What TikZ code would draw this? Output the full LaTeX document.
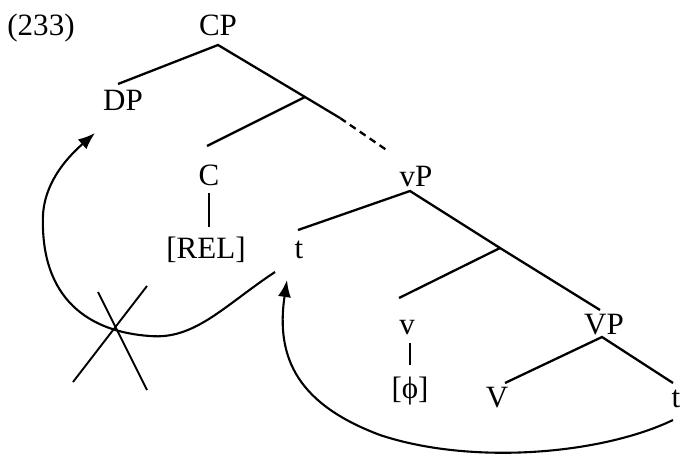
\documentclass[tikz,border=0pt]{standalone}
\usepackage{fontspec}
\setmainfont{Liberation Serif}
\usetikzlibrary{arrows.meta}
\begin{document}
\begin{tikzpicture}[x=1pt,y=-1pt,
  lbl/.style={font=\fontsize{31}{31}\selectfont, inner sep=0pt, anchor=base},
  br/.style={line width=2.3pt},
  mv/.style={line width=2.1pt, -{Latex[length=17pt,width=13pt]}},
  xline/.style={line width=1.9pt}]
\useasboundingbox (0,0) rectangle (684,460);
% labels
\node[lbl] (ex) at (41,36) {(233)};
\node[lbl] (CP) at (218,36) {CP};
\node[lbl] (DP) at (123,110) {DP};
\node[lbl] (C) at (209,185) {C};
\node[lbl] (REL) at (206,258) {[REL]};
\node[lbl] (t1) at (299,258) {t};
\node[lbl] (vP) at (416,186) {vP};
\node[lbl] (v) at (407,334) {v};
\node[lbl] (phi) at (410,398) {[ϕ]};
\node[lbl] (VP) at (604,334) {VP};
\node[lbl] (V) at (497,407) {V};
\node[lbl] (t2) at (676,407) {t};
% branch points
\coordinate (cpb) at (218,45);
\coordinate (dpt) at (118,84);
\coordinate (cbar) at (305,97);
\coordinate (dashs) at (340,118);
\coordinate (dashe) at (388,151);
\coordinate (ct) at (207,146);
\coordinate (cb) at (209,193);
\coordinate (relt) at (209,227);
\coordinate (vpb) at (410,191);
\coordinate (t1t) at (298,230);
\coordinate (vbar) at (500,248);
\coordinate (vt) at (399,298);
\coordinate (VPt) at (600,310);
\coordinate (vb) at (410,343);
\coordinate (phit) at (410,365);
\coordinate (VPb) at (602,337);
\coordinate (Vt) at (505,383);
\coordinate (t2t) at (673,383);
% tree
\draw[br] (dpt) -- (cpb) -- (cbar) -- (dashs);
\draw[br, dash pattern=on 7pt off 5pt] (dashs) -- (dashe);
\draw[br] (cbar) -- (ct);
\draw[br] (cb) -- (relt);
\draw[br] (t1t) -- (vpb) -- (vbar) -- (VPt);
\draw[br] (vbar) -- (vt);
\draw[br] (vb) -- (phit);
\draw[br] (Vt) -- (VPb) -- (t2t);
% movement arrows
\coordinate (a1s) at (275,272);
\coordinate (a1m) at (150,336);
\coordinate (a1l) at (43,215);
\coordinate (a1e) at (95,133);
\draw[mv] (a1s) .. controls (225,305) and (195,340) .. (a1m)
  .. controls (90,332) and (40,300) .. (a1l)
  .. controls (45,180) and (70,155) .. (a1e);
\coordinate (a2s) at (673,420);
\coordinate (a2m) at (380,435);
\coordinate (a2e) at (287,280);
\draw[mv] (a2s) .. controls (600,455) and (470,465) .. (a2m)
  .. controls (300,405) and (275,360) .. (a2e);
% cross
\coordinate (x1) at (98,292);
\coordinate (x2) at (147,390);
\coordinate (x3) at (147,286);
\coordinate (x4) at (73,382);
\draw[xline] (x1) -- (x2);
\draw[xline] (x3) -- (x4);
\end{tikzpicture}
\end{document}
